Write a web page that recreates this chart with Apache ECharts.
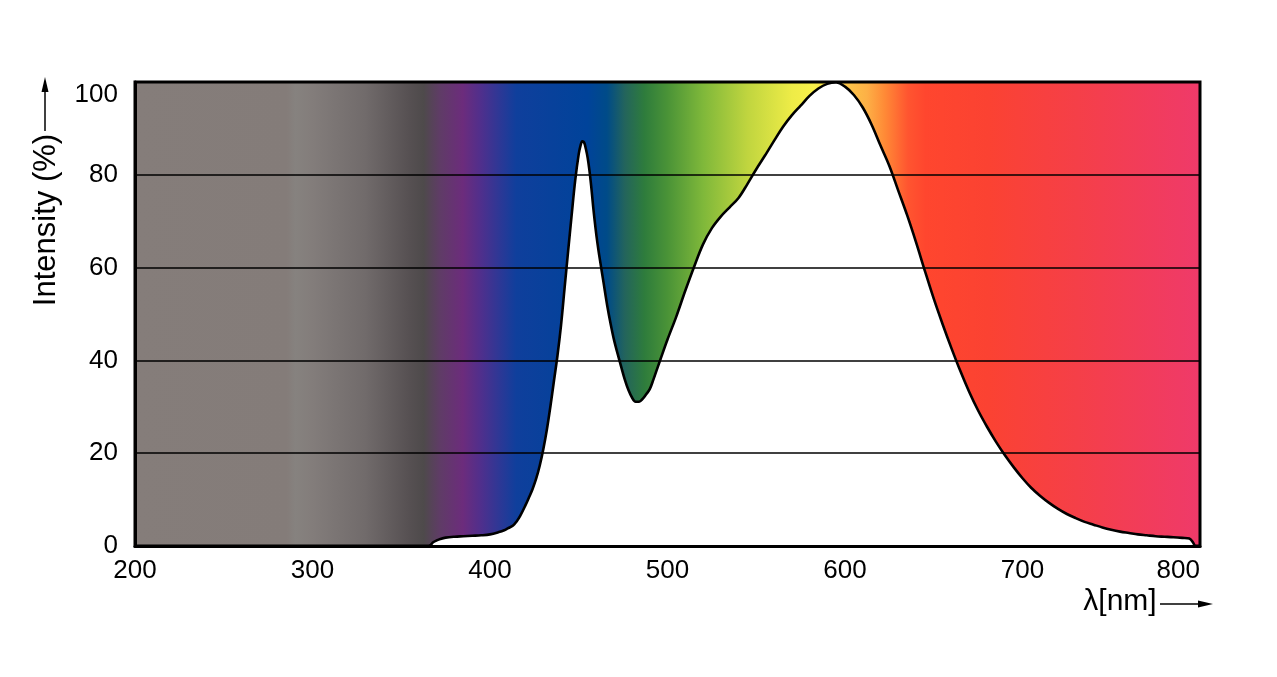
<!DOCTYPE html>
<html>
<head>
<meta charset="utf-8">
<script src="https://cdn.jsdelivr.net/npm/echarts@6/dist/echarts.min.js"></script>
<style>html,body{margin:0;padding:0;background:#fff}#c{width:1277px;height:677px}</style>
</head>
<body>
<div id="c"></div>
<script>
// Wavelength (nm) of spectrum samples
var wavelengths = [366, 367, 368, 370, 372, 375, 380, 385, 390, 395, 400, 405, 408, 410, 413, 415, 417, 420, 422, 424, 426, 428, 430, 432, 434, 436, 438, 440, 442, 444, 446, 448, 450, 451, 452, 453, 454, 455, 456, 457, 458, 459, 460, 461, 462, 464, 466, 468, 470, 472, 474, 476, 478, 480, 482, 484, 486, 488, 490, 492, 494, 496, 500, 505, 510, 515, 520, 525, 530, 535, 540, 545, 550, 555, 560, 565, 570, 575, 580, 585, 590, 595, 600, 605, 610, 615, 620, 625, 630, 635, 640, 645, 650, 655, 660, 665, 670, 675, 680, 685, 690, 695, 700, 705, 710, 715, 720, 725, 730, 735, 740, 745, 750, 755, 760, 765, 770, 775, 780, 785, 790, 794, 796, 797];
// Relative intensity (%) at each wavelength
var intensity = [0, 0.4, 0.8, 1.2, 1.5, 1.8, 2.0, 2.1, 2.2, 2.3, 2.5, 3.0, 3.4, 3.8, 4.4, 5.3, 6.5, 8.8, 10.5, 12.3, 14.5, 17.3, 20.8, 25, 30, 35.5, 41, 47.5, 55.5, 63.5, 71.3, 78.8, 84.5, 86.3, 87.2, 87, 85.6, 83.7, 81, 77.6, 73.6, 70, 66.8, 64, 61.5, 56.7, 51.9, 47.8, 44.2, 41.3, 38.5, 35.8, 33.6, 32, 31.1, 31.1, 31.7, 32.7, 33.8, 35.8, 38, 40.2, 44.5, 49.5, 55, 60.2, 65, 68.5, 71, 73, 75, 78, 81.2, 84.2, 87.3, 90.3, 92.8, 94.9, 97, 98.6, 99.6, 99.9, 99, 97.2, 94.5, 90.8, 86.3, 81.9, 76.6, 71.3, 65.5, 59.3, 53.3, 47.8, 42.6, 37.7, 33.2, 29.2, 25.7, 22.5, 19.6, 17.0, 14.6, 12.5, 10.8, 9.3, 8.0, 6.9, 6.0, 5.2, 4.6, 4.0, 3.5, 3.1, 2.8, 2.5, 2.3, 2.1, 2.0, 1.9, 1.75, 1.6, 0.8, 0];
// Axis ticks
var xTicks = [200, 300, 400, 500, 600, 700, 800];
var yTicks = [0, 20, 40, 60, 80, 100];
// Background spectrum colour stops: wavelength (nm) and colour
var bgWavelengths = [200, 286, 291, 300, 330, 355, 363, 372, 385, 395, 405, 415, 455, 466, 476, 487, 500, 520, 545, 570, 582, 595, 612, 622, 635, 645, 680, 730, 800];
var bgColors = ['#857d7a', '#847c79', '#86827f', '#837d7b', '#716b6b', '#565052', '#4e4a4b', '#5f3c66', '#6c2c7c', '#502f8c', '#2f3795', '#0f3f9c', '#00439a', '#004b88', '#23645c', '#2e7c3c', '#4a9337', '#7fb83a', '#c0d53f', '#eeec47', '#f8f04a', '#fcd04a', '#fdb046', '#ff8a36', '#ff5530', '#ff462e', '#fb4232', '#f53f48', '#ef3a6a'];

var xMin = xTicks[0], xMax = xTicks[xTicks.length - 1];
var yMin = yTicks[0], yMax = yTicks[yTicks.length - 1];
var stops = bgWavelengths.map(function (w, i) {
  return { offset: (w - xMin) / (xMax - xMin), color: bgColors[i] };
});
var data = wavelengths.map(function (w, i) { return [w, intensity[i]]; });

var FONT = 'Liberation Sans, Arial, sans-serif';
var chart = echarts.init(document.getElementById('c'));
chart.setOption({
  animation: false,
  grid: {
    left: 135, right: 77, top: 82, bottom: 131,
    show: true,
    backgroundColor: { type: 'linear', x: 0, y: 0, x2: 1, y2: 0, colorStops: stops },
    borderColor: '#000', borderWidth: 3
  },
  xAxis: {
    type: 'value', min: xMin, max: xMax, interval: 100, z: 10,
    axisLine: { show: true, onZero: false, lineStyle: { color: '#000', width: 3 } },
    axisTick: { show: false },
    splitLine: { show: false },
    axisLabel: { color: '#000', fontSize: 26, fontFamily: FONT, margin: 12, alignMaxLabel: 'right' }
  },
  yAxis: {
    type: 'value', min: yMin, max: yMax, interval: 20, z: 10,
    axisLine: { show: true, lineStyle: { color: '#000', width: 3 } },
    axisTick: { show: false },
    splitLine: { show: true, lineStyle: { color: '#000', width: 1.5 } },
    axisLabel: { color: '#000', fontSize: 26, fontFamily: FONT, margin: 17, verticalAlignMaxLabel: 'top' }
  },
  series: [{
    type: 'line',
    data: data,
    smooth: 0.35,
    symbol: 'none',
    lineStyle: { color: '#000', width: 2.6 },
    areaStyle: { color: '#fff', opacity: 1 },
    z: 3
  }],
  graphic: [
    { type: 'text', x: 46, y: 220, rotation: Math.PI / 2,
      style: { text: 'Intensity (%)', font: '31px ' + FONT, fill: '#000', textAlign: 'center', textVerticalAlign: 'middle' } },
    { type: 'line', shape: { x1: 45, y1: 131, x2: 45, y2: 90 }, style: { stroke: '#000', lineWidth: 1.5 } },
    { type: 'polygon', shape: { points: [[45, 77], [41.5, 92], [48.5, 92]] }, style: { fill: '#000' } },
    { type: 'text', x: 1120, y: 602,
      style: { text: 'λ[nm]', font: '30px ' + FONT, fill: '#000', textAlign: 'center', textVerticalAlign: 'middle' } },
    { type: 'line', shape: { x1: 1160, y1: 604, x2: 1200, y2: 604 }, style: { stroke: '#000', lineWidth: 1.5 } },
    { type: 'polygon', shape: { points: [[1213, 604], [1198, 600.5], [1198, 607.5]] }, style: { fill: '#000' } }
  ]
});
</script>
</body>
</html>
